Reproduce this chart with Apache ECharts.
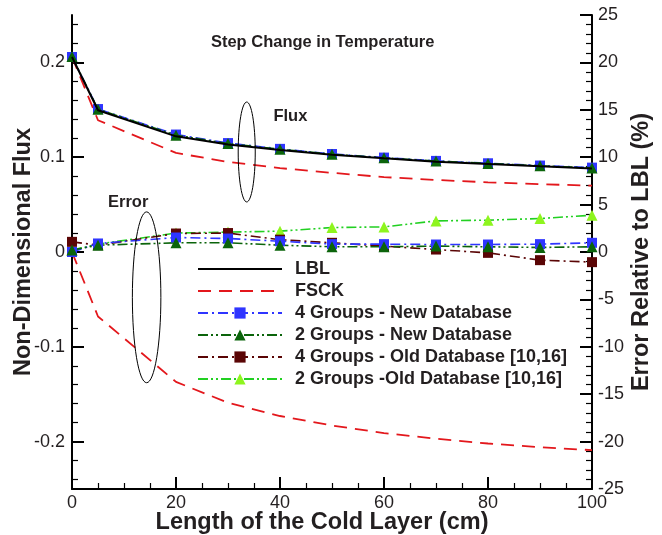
<!DOCTYPE html>
<html>
<head>
<meta charset="utf-8">
<script src="https://cdn.jsdelivr.net/npm/echarts@6/dist/echarts.min.js"></script>
<style>
html,body{margin:0;padding:0;background:#fff;}
#c{width:662px;height:535px;}
</style>
</head>
<body>
<div id="c"></div>
<script>
// ---- data ----
const xCm = [0, 5, 20, 30, 40, 50, 60, 70, 80, 90, 100];

const fluxLBL  = [0.2057, 0.1495, 0.1220, 0.1133, 0.1076, 0.1025, 0.0988, 0.0953, 0.0929, 0.0905, 0.0882];
const fluxFSCK = [0.2057, 0.1390, 0.1045, 0.0950, 0.0885, 0.0835, 0.0790, 0.0760, 0.0735, 0.0715, 0.0700];
const flux4New = [0.2057, 0.1508, 0.1239, 0.1149, 0.1088, 0.1034, 0.0996, 0.0961, 0.0936, 0.0912, 0.0890];
const flux2New = [0.2061, 0.1506, 0.1232, 0.1144, 0.1084, 0.1031, 0.0993, 0.0959, 0.0934, 0.0909, 0.0887];

const errFSCK = [0.0, -6.8, -13.7, -15.9, -17.3, -18.3, -19.1, -19.7, -20.2, -20.6, -20.9];
const err4New = [0.0, 0.90, 1.53, 1.42, 1.14, 0.83, 0.83, 0.79, 0.79, 0.83, 0.97];
const err2New = [0.2, 0.72, 0.97, 0.97, 0.72, 0.55, 0.55, 0.62, 0.55, 0.48, 0.55];
const err4Old = [1.07, 0.72, 1.95, 2.00, 1.30, 0.97, 0.62, 0.26, -0.09, -0.86, -1.07];
const err2Old = [0.2, 0.83, 2.00, 2.10, 2.20, 2.58, 2.65, 3.28, 3.36, 3.53, 3.88];

const leftMajorTicks = [-0.2, -0.1, 0, 0.1, 0.2];
const leftMinorTicks = [-0.24, -0.22, -0.18, -0.16, -0.14, -0.12, -0.08, -0.06, -0.04, -0.02,
                        0.02, 0.04, 0.06, 0.08, 0.12, 0.14, 0.16, 0.18, 0.22, 0.24];

const names = ['LBL', 'FSCK', '4 Groups - New Database', '2 Groups - New Database',
               '4 Groups - Old Database [10,16]', '2 Groups -Old Database [10,16]'];

function pairs(xs, ys) { return xs.map((x, i) => [x, ys[i]]); }

// ---- styles ----
const FONT = 'Liberation Sans, Arial, Helvetica, sans-serif';
const TXT = '#231f20';
const C = {
  lbl: '#000000', fsck: '#e3171c', b4: '#2f35ff', g2: '#0b640b',
  m4: '#5a0505', l2: '#22d022', l2m: '#8ef51e'
};
const DASH = [13, 8];
const DASHDOT = [10, 4, 2, 4];
const DASHDOTDOT = [10, 3, 2, 3, 2, 3];

function lineSeries(name, data, yIdx, color, type, width, symbol, symColor, z) {
  return {
    name: name, type: 'line', data: data, yAxisIndex: yIdx,
    symbol: symbol || 'none', symbolSize: symbol === 'triangle' ? 11 : 10,
    showSymbol: !!symbol,
    lineStyle: { color: color, width: width, type: type },
    itemStyle: { color: symColor || color, borderWidth: 0 },
    z: z, animation: false, silent: true
  };
}

const series = [
  lineSeries(names[2], pairs(xCm, flux4New), 0, C.b4, DASHDOT, 1.6, 'rect', C.b4, 3),
  lineSeries(names[3], pairs(xCm, flux2New), 0, C.g2, DASHDOTDOT, 1.6, 'triangle', C.g2, 4),
  lineSeries(names[1], pairs(xCm, fluxFSCK), 0, C.fsck, DASH, 1.8, null, null, 2),
  lineSeries(names[0], pairs(xCm, fluxLBL), 0, C.lbl, 'solid', 2, null, null, 5),
  lineSeries(names[1], pairs(xCm, errFSCK), 2, C.fsck, DASH, 1.8, null, null, 2),
  lineSeries(names[5], pairs(xCm, err2Old), 2, C.l2, DASHDOTDOT, 1.6, 'triangle', C.l2m, 3),
  lineSeries(names[4], pairs(xCm, err4Old), 2, C.m4, DASHDOT, 1.6, 'rect', C.m4, 3),
  lineSeries(names[2], pairs(xCm, err4New), 2, C.b4, DASHDOT, 1.6, 'rect', C.b4, 4),
  lineSeries(names[3], pairs(xCm, err2New), 2, C.g2, DASHDOTDOT, 1.6, 'triangle', C.g2, 4)
];

const legendData = names.map((n, i) => i < 2
  ? { name: n, itemStyle: { color: 'rgba(0,0,0,0)', opacity: 0, borderWidth: 0 } }
  : { name: n });

const chart = echarts.init(document.getElementById('c'), null, { renderer: 'canvas' });

const axisLineStyle = { color: '#000', width: 2 };
const NAME_STYLE = { fontFamily: FONT, fontSize: 23.5, fontWeight: 'bold', color: TXT };
const LABEL_STYLE = { fontFamily: FONT, fontSize: 18, color: TXT };

chart.setOption({
  animation: false,
  backgroundColor: '#fff',
  textStyle: { fontFamily: FONT },
  grid: { left: 72, right: 70, top: 15, bottom: 46, containLabel: false, outerBoundsMode: 'none' },
  legend: {
    data: legendData, orient: 'vertical', left: 192, top: 255,
    itemWidth: 84, itemHeight: 14, itemGap: 4,
    textStyle: { fontFamily: FONT, fontSize: 18, fontWeight: 'bold', color: TXT, padding: [0, 0, 0, 8] },
    selectedMode: false
  },
  xAxis: {
    type: 'value', min: 0, max: 100, interval: 20,
    name: 'Length of the Cold Layer (cm)', nameLocation: 'middle', nameGap: 22, nameMoveOverlap: false,
    nameTextStyle: Object.assign({ padding: [0, 20, 0, 0] }, NAME_STYLE),
    axisLine: { show: true, onZero: false, lineStyle: axisLineStyle },
    axisTick: { show: true, inside: true, length: 12, lineStyle: { color: '#000', width: 2 } },
    minorTick: { show: true, splitNumber: 4, length: 6, lineStyle: { color: '#000', width: 1.2 } },
    axisLabel: Object.assign({ margin: 5 }, LABEL_STYLE),
    splitLine: { show: false }
  },
  yAxis: [
    {
      type: 'value', min: -0.25, max: 0.25, position: 'left',
      name: 'Non-Dimensional Flux', nameLocation: 'middle', nameGap: 36, nameRotate: 90, nameMoveOverlap: false,
      nameTextStyle: NAME_STYLE,
      axisLine: { show: true, onZero: false, lineStyle: axisLineStyle },
      axisTick: { show: true, inside: true, length: 12, customValues: leftMajorTicks, lineStyle: { color: '#000', width: 2 } },
      axisLabel: Object.assign({ margin: 7, customValues: leftMajorTicks,
                   formatter: v => (Math.abs(v) < 1e-9 ? '0' : String(Math.round(v * 10) / 10)) }, LABEL_STYLE),
      splitLine: { show: false }
    },
    {
      type: 'value', min: -0.25, max: 0.25, position: 'left',
      axisLine: { show: false, onZero: false },
      axisTick: { show: true, inside: true, length: 6, customValues: leftMinorTicks, lineStyle: { color: '#000', width: 1.2 } },
      axisLabel: { show: false },
      splitLine: { show: false }
    },
    {
      type: 'value', min: -25, max: 25, interval: 5, position: 'right',
      name: 'Error Relative to LBL (%)', nameLocation: 'middle', nameGap: 38, nameRotate: 90, nameMoveOverlap: false,
      nameTextStyle: NAME_STYLE,
      axisLine: { show: true, onZero: false, lineStyle: axisLineStyle },
      axisTick: { show: true, inside: true, length: 12, lineStyle: { color: '#000', width: 2 } },
      minorTick: { show: true, splitNumber: 5, length: 6, lineStyle: { color: '#000', width: 1.2 } },
      axisLabel: Object.assign({ margin: 6 }, LABEL_STYLE),
      splitLine: { show: false }
    }
  ],
  series: series
});

// ---- annotations anchored to data coordinates ----
function px(x, y) { return chart.convertToPixel({ xAxisIndex: 0, yAxisIndex: 0 }, [x, y]); }
const fluxEllC = px(33.6, 0.1055), fluxEllE = px(33.6 + 1.64, 0.1055 + 0.0527);
const errEllC = px(14.35, -0.0478), errEllE = px(14.35 + 2.74, -0.0478 + 0.0901);
const titleP = px(48.2, 0.2215), fluxLab = px(42, 0.1435), errLab = px(10.8, 0.052);
const ANN_FONT = 'bold 16.5px ' + FONT;

chart.setOption({
  graphic: [
    { type: 'ellipse', shape: { cx: fluxEllC[0], cy: fluxEllC[1], rx: fluxEllE[0] - fluxEllC[0], ry: fluxEllC[1] - fluxEllE[1] },
      style: { fill: 'none', stroke: '#000', lineWidth: 1 }, silent: true, z: 10 },
    { type: 'ellipse', shape: { cx: errEllC[0], cy: errEllC[1], rx: errEllE[0] - errEllC[0], ry: errEllC[1] - errEllE[1] },
      style: { fill: 'none', stroke: '#000', lineWidth: 1 }, silent: true, z: 10 },
    { type: 'text', x: titleP[0], y: titleP[1], style: { text: 'Step Change in Temperature', fill: TXT,
      font: ANN_FONT, textAlign: 'center', textVerticalAlign: 'middle' }, z: 10 },
    { type: 'text', x: fluxLab[0], y: fluxLab[1], style: { text: 'Flux', fill: TXT,
      font: ANN_FONT, textAlign: 'center', textVerticalAlign: 'middle' }, z: 10 },
    { type: 'text', x: errLab[0], y: errLab[1], style: { text: 'Error', fill: TXT,
      font: ANN_FONT, textAlign: 'center', textVerticalAlign: 'middle' }, z: 10 }
  ]
});
</script>
</body>
</html>
